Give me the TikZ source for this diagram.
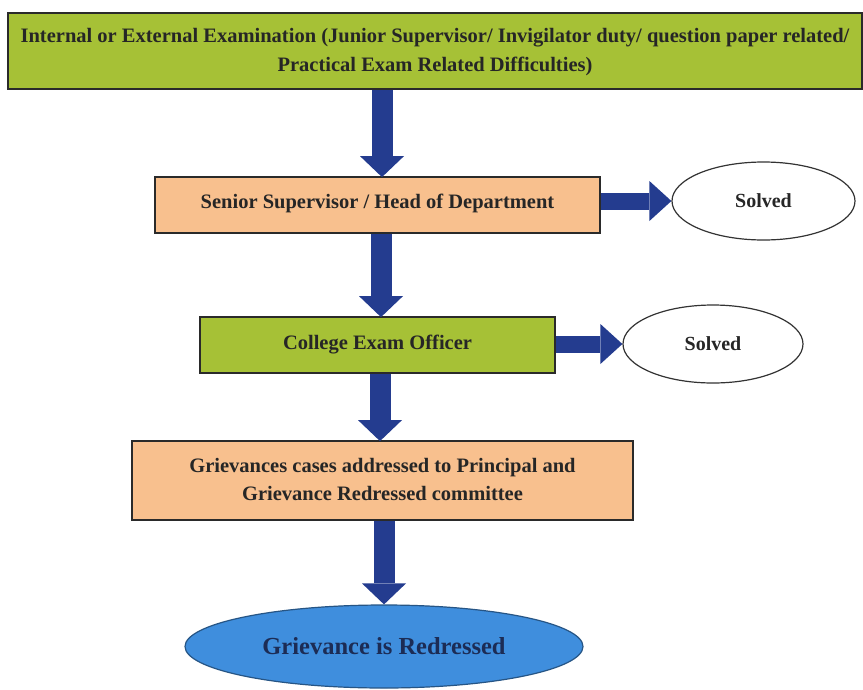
\documentclass[tikz,border=0pt]{standalone}
\usepackage{fontspec}
\setmainfont{Liberation Serif}
\usetikzlibrary{shapes.geometric,arrows.meta}
\definecolor{boxgreen}{HTML}{A6C136}
\definecolor{boxorange}{HTML}{F8C08E}
\definecolor{arrowblue}{HTML}{243C8F}
\definecolor{ellblue}{HTML}{3F8EDD}
\definecolor{txtnavy}{HTML}{1C2C55}
\definecolor{edgegray}{HTML}{2A2A2A}
\tikzset{
  boxnode/.style={draw=edgegray, line width=1.8pt, inner sep=0pt, align=center,
    font=\bfseries\fontsize{20.5}{29}\selectfont, text=black!85},
  greenbox/.style={boxnode, fill=boxgreen},
  orangebox/.style={boxnode, fill=boxorange},
  solvednode/.style={ellipse, draw=black!80, line width=1.2pt, fill=white, inner sep=0pt,
    font=\bfseries\fontsize{20}{22}\selectfont, text=black!85},
  finalnode/.style={ellipse, draw=ellblue!60!black, line width=1.2pt, fill=ellblue, inner sep=0pt,
    font=\bfseries\fontsize{24.5}{27}\selectfont, text=txtnavy},
  downarrow/.style={arrowblue, line width=21pt, -{Triangle[width=44pt,length=21pt,line width=0pt]}},
  rightarrow/.style={arrowblue, line width=17pt, -{Triangle[width=40pt,length=22pt,line width=0pt]}},
}
\begin{document}
\begin{tikzpicture}[x=1pt,y=-1pt]
\useasboundingbox (0,0) rectangle (863,689);
\fill[white] (0,0) rectangle (863,689);

\node[greenbox, minimum width=854pt, minimum height=76pt] (b1) at (435,51)
  {\raisebox{3pt}{\begin{tabular}{@{}c@{}}Internal or External Examination (Junior Supervisor/ Invigilator duty/ question paper related/\\[-0.5pt] Practical Exam Related Difficulties)\end{tabular}}};
\node[orangebox, minimum width=445pt, minimum height=56pt] (b2) at (377.5,205)
  {\raisebox{7pt}{Senior Supervisor / Head of Department}};
\node[solvednode, minimum width=183pt, minimum height=78pt] (s1) at (763.5,201) {Solved};
\node[greenbox, minimum width=355pt, minimum height=56pt] (b3) at (377.5,345)
  {\raisebox{6pt}{College Exam Officer}};
\node[solvednode, minimum width=180pt, minimum height=78pt] (s2) at (713,344) {Solved};
\node[orangebox, minimum width=501pt, minimum height=79pt] (b4) at (382.5,480.5)
  {\raisebox{2pt}{\begin{tabular}{@{}c@{}}Grievances cases addressed to Principal and\\[-0.5pt] Grievance Redressed committee\end{tabular}}};
\node[finalnode, minimum width=398pt, minimum height=83pt] (f) at (384,646.5) {Grievance is Redressed};

\coordinate (a1s) at ([xshift=4.5pt]b1.south -| b2.north);
\draw[downarrow] (a1s) -- ([xshift=4.5pt,yshift=-1pt]b2.north);
\draw[downarrow] ([xshift=3.5pt]b2.south) -- ([xshift=3.5pt,yshift=-1pt]b3.north);
\draw[downarrow] ([xshift=2.5pt]b3.south) -- ([xshift=-2.5pt,yshift=-1pt]b4.north);
\draw[downarrow] (f.north |- b4.south) -- (f.north);
\draw[rightarrow] (b2.east |- s1.west) -- (s1.west);
\draw[rightarrow] (b3.east |- s2.west) -- (s2.west);
\end{tikzpicture}
\end{document}
